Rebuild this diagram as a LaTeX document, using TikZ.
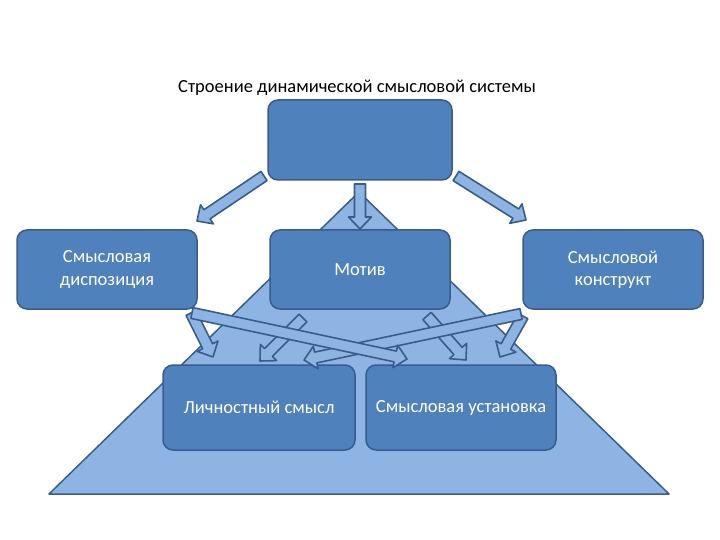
\documentclass[tikz,border=0pt]{standalone}
\usepackage{fontspec}
\setmainfont{Carlito}
\usetikzlibrary{calc}
\definecolor{box}{HTML}{4F81BD}
\definecolor{edge}{HTML}{385D8A}
\definecolor{pale}{HTML}{8EB4E3}
\tikzset{
  blk/.style={draw=edge, line width=1.5pt, fill=box, rounded corners=10pt, text=white, align=center, inner sep=2pt},
  arw/.style={draw=edge, line width=1.6pt, fill=pale, line join=round}}
% block arrow from #1 to #2
\newcommand\blockarrow[2]{%
  \draw[arw] let \p1=($(#2)-(#1)$), \n1={atan2(\y1,\x1)}, \n2={veclen(\x1,\y1)} in
    [shift={(#1)}, rotate=\n1] (0,-5.5) -- (\n2-12,-5.5) -- (\n2-12,-11.5) -- (\n2,0) -- (\n2-12,11.5) -- (\n2-12,5.5) -- (0,5.5) -- cycle;}

\begin{document}
\begin{tikzpicture}[x=1pt, y=-1pt, font=\fontsize{18.5}{22.5}\selectfont]
\useasboundingbox (0,0) rectangle (720,540);
% base pyramid
\draw[draw=edge, line width=1.5pt, fill=pale, line join=round] (49,494) -- (359,192) -- (669,494) -- cycle;
\node (ttl) at (357,88) {Строение динамической смысловой системы};
\node[blk, minimum width=184pt, minimum height=80pt] (sys) at (360,140) {};
\node[blk, minimum width=180pt, minimum height=79pt] (disp) at (107,269.5) {Смысловая\\диспозиция};
\node[blk, minimum width=180pt, minimum height=79pt] (motiv) at (360,269.5) {Мотив};
\node[blk, minimum width=180pt, minimum height=79pt] (konstr) at (613,269.5) {Смысловой\\конструкт};
\node[blk, minimum width=192pt, minimum height=85pt] (lich) at (259,407.5) {Личностный смысл};
\node[blk, minimum width=190pt, minimum height=85pt] (ustan) at (461,407.5) {Смысловая установка};
% arrow ends
\coordinate (s1) at (264,176); \coordinate (d1) at (197,221);
\coordinate (s2) at (360,184); \coordinate (m1) at (360,229);
\coordinate (s3) at (456,176); \coordinate (k1) at (526,220);
\coordinate (d2) at (191,313); \coordinate (l1) at (213,357);
\coordinate (d3) at (192,313); \coordinate (u1) at (407,359);
\coordinate (m2) at (303,318); \coordinate (l2) at (260,361);
\coordinate (m3) at (427,316); \coordinate (u2) at (466,360);
\coordinate (k2) at (521,314); \coordinate (l3) at (304,360);
\coordinate (k3) at (523,316); \coordinate (u3) at (500,357);
\blockarrow{s1}{d1}
\blockarrow{s2}{m1}
\blockarrow{s3}{k1}
\blockarrow{m2}{l2}
\blockarrow{m3}{u2}
\blockarrow{d2}{l1}
\blockarrow{k3}{u3}
\blockarrow{k2}{l3}
\blockarrow{d3}{u1}
\end{tikzpicture}
\end{document}
